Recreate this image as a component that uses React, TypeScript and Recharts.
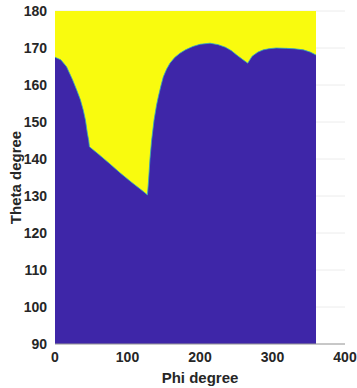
import { ComposedChart, Area, XAxis, YAxis, CartesianGrid } from "recharts";

// boundary between the two regions
const PHI = [
  0, 8, 16, 24, 30, 35, 39, 42, 44.6, 46.5, 47.5, 60, 75, 90, 105, 120, 127.5, 129, 131, 133.3,
  136.6, 140, 142.5, 146, 149.4, 154, 158.6, 165, 172.4, 180, 190, 200, 213.8, 225, 235, 243,
  250.6, 258, 265.8, 272, 280, 287.4, 295, 305, 319.5, 330, 342.5, 352, 360,
];
const THETA_EDGE = [
  167.5, 166.8, 164.9, 161.5, 158.6, 156, 153.2, 150.5, 147, 145, 143.3, 141.3, 138.8, 136.2,
  133.8, 131.5, 130.3, 134, 140, 145.1, 150.5, 154.5, 156.8, 159.7, 162.2, 164.3, 165.9, 167.4,
  168.6, 169.5, 170.4, 171, 171.3, 170.9, 170.2, 169.3, 168.1, 167, 165.9, 167.8, 168.9, 169.5,
  169.8, 170, 169.9, 169.8, 169.5, 168.9, 168.1,
];
const THETA_MAX = 180;
const X_TICKS = [0, 100, 200, 300, 400];
const Y_TICKS = [90, 100, 110, 120, 130, 140, 150, 160, 170, 180];

const data = PHI.map((phi, i) => ({ phi, top: THETA_MAX, edge: THETA_EDGE[i] }));

const tickStyle = { fontSize: 14, fontWeight: 700, fill: "#262626", fontFamily: "Liberation Sans, Arial, sans-serif" };
const labelStyle = { ...tickStyle, fontSize: 15 };

export default function App() {
  return (
    <div style={{ position: "absolute", left: 0, top: 0, background: "#fff" }}>
      <ComposedChart width={357} height={388} data={data} margin={{ top: 11, right: 12, left: 20, bottom: 12 }}>
        <CartesianGrid horizontal vertical={false} stroke="#ececec" />
        <XAxis
          dataKey="phi"
          type="number"
          domain={[0, 400]}
          ticks={X_TICKS}
          tickLine={false}
          axisLine={{ stroke: "#9a9a9a" }}
          tick={tickStyle}
          height={32}
          label={{ value: "Phi degree", position: "insideBottom", offset: -7, style: labelStyle }}
        />
        <YAxis
          type="number"
          domain={[90, 180]}
          ticks={Y_TICKS}
          tickLine={false}
          axisLine={false}
          tick={tickStyle}
          width={35}
          label={{
            value: "Theta degree",
            angle: -90,
            position: "insideLeft",
            offset: -4,
            style: { ...labelStyle, textAnchor: "middle" },
          }}
        />
        <Area type="linear" dataKey="top" fill="#F9FB0E" fillOpacity={1} stroke="none" isAnimationActive={false} />
        <Area
          type="linear"
          dataKey="edge"
          baseValue={90}
          fill="#3E26A8"
          fillOpacity={1}
          stroke="#2fa8c4"
          strokeWidth={0.8}
          isAnimationActive={false}
        />
      </ComposedChart>
    </div>
  );
}
